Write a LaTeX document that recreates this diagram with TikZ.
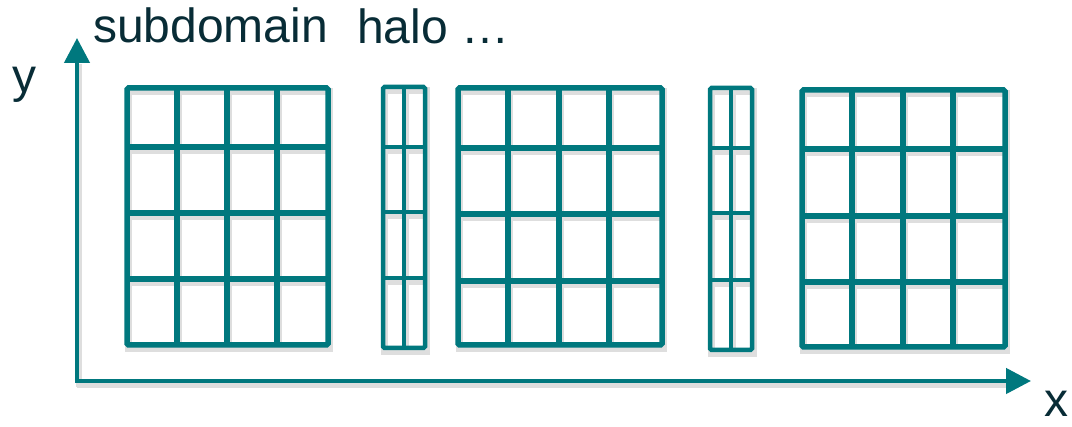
\documentclass[tikz,border=0pt]{standalone}
\usepackage{fontspec}
\setmainfont{Liberation Sans}
\usetikzlibrary{arrows.meta}
\definecolor{gridteal}{RGB}{0,120,126}
\definecolor{labeltxt}{RGB}{8,44,54}
\definecolor{shadowgray}{RGB}{222,222,222}
\tikzset{
  gl/.style={draw=gridteal, line width=5.5pt},
  hl/.style={draw=gridteal, line width=4.5pt},
  sh/.style={draw=shadowgray, line width=7pt},
  axisline/.style={draw=gridteal, line width=4.5pt, -{Triangle[length=25pt,width=25pt]}},
  lbl/.style={font=\fontsize{48}{50}\selectfont, text=labeltxt, inner sep=0pt, anchor=base west}
}
% #1 x0, #2 x1, #3 y0 (top), #4 y1 (bottom), #5 vertical list, #6 horizontal list, #7 style
\newcommand\DrawSubGrid[7]{%
  \begin{scope}[shift={(1.5,4)}]
    \foreach \v in {#5} \draw[sh] (\v,#3) -- (\v,#4);
    \foreach \h in {#6} \draw[sh] (#1,\h) -- (#2,\h);
    \draw[sh] (#1,#3) rectangle (#2,#4);
  \end{scope}
  \foreach \v in {#5} \draw[#7] (\v,#3) -- (\v,#4);
  \foreach \h in {#6} \draw[#7] (#1,\h) -- (#2,\h);
  \draw[#7, rounded corners=1.5pt] (#1,#3) rectangle (#2,#4);
}
\begin{document}
\begin{tikzpicture}[x=1pt,y=-1pt]
\useasboundingbox (0,0) rectangle (1072,427);
\fill[white] (0,0) rectangle (1072,427);

% axes
\coordinate (origin) at (77,381);
\coordinate (ytip) at (77,38);
\coordinate (xtip) at (1031,381);
\begin{scope}[shift={(1.5,4)}]
  \draw[shadowgray, line width=6pt] (77,383) -- (77,60);
  \draw[shadowgray, line width=6pt] (75,381) -- (1008,381);
\end{scope}
\draw[axisline] ([yshift=2.25pt]origin) -- (ytip);
\draw[axisline] ([xshift=-2.25pt]origin) -- (xtip);

% subdomains and halos
\DrawSubGrid{127}{328}{88}{345}{177,227,277}{147,213,279}{gl}
\DrawSubGrid{383}{425}{87}{348}{404}{147,212,278}{hl}
\DrawSubGrid{458}{662}{88}{345}{508,559,609}{148,214,281}{gl}
\DrawSubGrid{710}{752}{88}{350}{731}{148,213,280}{hl}
\DrawSubGrid{802}{1005}{90}{347}{852,903,953}{149,216,282}{gl}

% labels
\node[lbl] (sub) at (93,43) {subdomain};
\node[lbl] (halo) at (357,44) {halo …};
\node[lbl] (ylbl) at (12,93) {y};
\node[lbl] (xlbl) at (1044,417) {x};
\end{tikzpicture}
\end{document}
